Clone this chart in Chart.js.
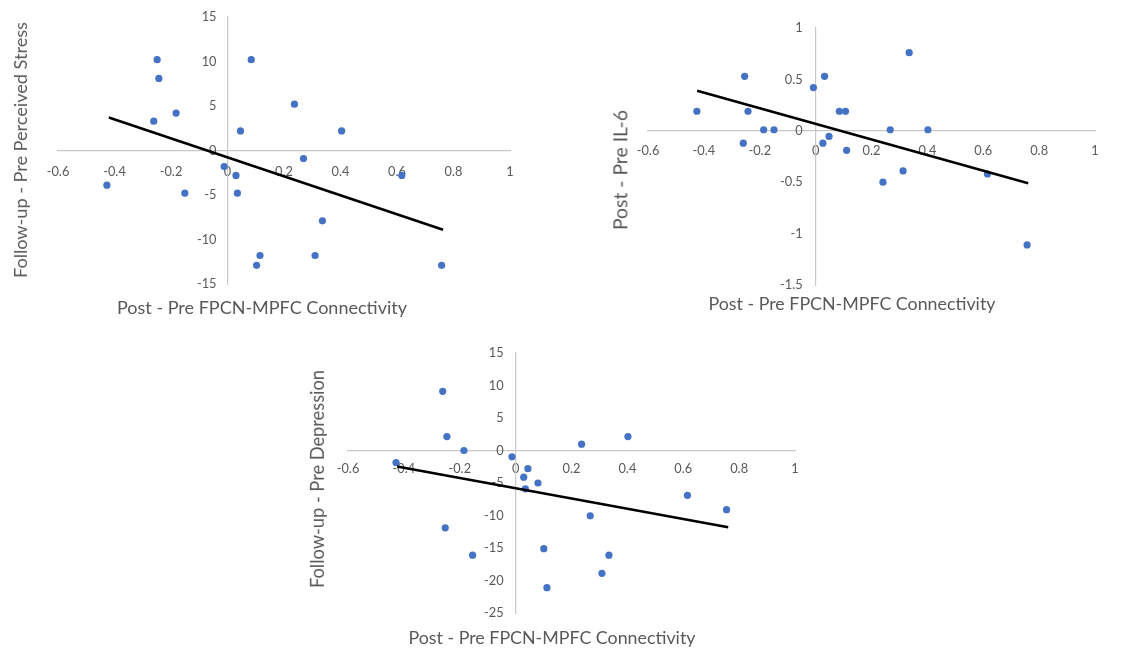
<!DOCTYPE html>
<html><head><meta charset="utf-8">
<script src="https://cdn.jsdelivr.net/npm/chart.js@4.4.1/dist/chart.umd.min.js"></script>
<style>
html,body{margin:0;padding:0;background:#fff;width:1145px;height:652px;overflow:hidden;position:relative}
canvas{position:absolute}
.t{position:absolute;color:#595959;font-family:Lato,'Open Sans',sans-serif;white-space:nowrap;line-height:1}
</style></head><body>
<canvas id="c1" width="570" height="325" style="left:0px;top:0px"></canvas>
<canvas id="c2" width="565" height="325" style="left:580px;top:0px"></canvas>
<canvas id="c3" width="560" height="322" style="left:290px;top:330px"></canvas>
<script>
// ---- tick labels ----
const connectivityTicks = [-0.6, -0.4, -0.2, 0, 0.2, 0.4, 0.6, 0.8, 1];
const stressTicks = [-15, -10, -5, 0, 5, 10, 15];
const il6Ticks = [-1.5, -1, -0.5, 0, 0.5, 1];
const depressionTicks = [-25, -20, -15, -10, -5, 0, 5, 10, 15];

// ---- chart 1: perceived stress ----
const stressX = [-0.249, -0.243, 0.084, -0.182, -0.261, 0.237, 0.046, 0.404, 0.269, -0.012, 0.030, 0.617, -0.427, -0.151, 0.035, 0.336, 0.115, 0.310, 0.103, 0.758];
const stressY = [10.2, 8.1, 10.2, 4.2, 3.3, 5.2, 2.2, 2.2, -0.9, -1.8, -2.8, -2.8, -3.9, -4.8, -4.8, -7.9, -11.8, -11.8, -12.9, -12.9];
const stressTrendX = [-0.420, 0.763];
const stressTrendY = [3.7, -8.9];

// ---- chart 2: IL-6 ----
const il6X = [-0.425, -0.254, -0.242, -0.186, -0.149, -0.259, -0.008, 0.032, 0.026, 0.048, 0.085, 0.107, 0.111, 0.267, 0.402, 0.241, 0.313, 0.335, 0.615, 0.757];
const il6Y = [0.19, 0.53, 0.19, 0.01, 0.01, -0.12, 0.42, 0.53, -0.12, -0.055, 0.19, 0.19, -0.19, 0.01, 0.01, -0.50, -0.39, 0.76, -0.42, -1.11];
const il6TrendX = [-0.424, 0.761];
const il6TrendY = [0.39, -0.51];

// ---- chart 3: depression ----
const depressionX = [-0.428, -0.261, -0.246, -0.185, -0.252, -0.154, -0.013, 0.029, 0.035, 0.044, 0.080, 0.101, 0.112, 0.236, 0.267, 0.309, 0.334, 0.402, 0.615, 0.755];
const depressionY = [-1.85, 9.1, 2.15, 0.0, -11.9, -16.1, -0.97, -4.1, -5.9, -2.8, -5.0, -15.1, -21.1, 0.97, -10.05, -18.9, -16.1, 2.15, -6.9, -9.1];
const depressionTrendX = [-0.424, 0.761];
const depressionTrendY = [-2.46, -11.8];

const xTitle = 'Post - Pre FPCN-MPFC Connectivity';
const TXT = '#595959';
const tickFont = {family: "Lato, 'Open Sans', sans-serif", size: 12.8};

function pts(xs, ys){ return xs.map((x,i)=>({x:x, y:ys[i]})); }

// shifts the y-axis tick labels away from the axis line (padding is not applied for value-positioned axes)
const yLabelGap = {
  id: 'yLabelGap',
  beforeDraw(chart, args, opts){
    const s = chart.scales.y;
    const items = s.getLabelItems(chart.chartArea);
    if (!items._shifted) {
      items.forEach(it => { it.options.translation[0] -= opts.gap; });
      items._shifted = true;
    }
  }
};

function makeChart(id, xs, ys, tx, ty, yTicks, pad, xPad, yGap){
  new Chart(document.getElementById(id), {
    type: 'scatter',
    data: {datasets: [
      {data: pts(tx, ty), showLine: true, borderColor: '#000', borderWidth: 2.6, pointRadius: 0, pointHoverRadius: 0, fill: false},
      {data: pts(xs, ys), showLine: false, pointRadius: 3.6, pointBackgroundColor: '#4472C4', pointBorderColor: '#4472C4', pointBorderWidth: 0}
    ]},
    plugins: [yLabelGap],
    options: {
      responsive: false, animation: false, events: [],
      layout: {padding: pad},
      plugins: {legend: {display: false}, tooltip: {enabled: false}, title: {display: false}, yLabelGap: {gap: yGap}},
      scales: {
        x: {type: 'linear', position: {y: 0}, min: Math.min(...connectivityTicks), max: Math.max(...connectivityTicks),
            grid: {display: false, drawTicks: false}, border: {display: true, color: '#c8c8c8', width: 1.2},
            ticks: {color: TXT, font: tickFont, padding: xPad, callback: v => String(v)},
            afterBuildTicks: s => { s.ticks = connectivityTicks.map(v => ({value: v})); }},
        y: {type: 'linear', position: {x: 0}, min: Math.min(...yTicks), max: Math.max(...yTicks),
            grid: {display: false, drawTicks: false}, border: {display: true, color: '#c8c8c8', width: 1.2},
            ticks: {color: TXT, font: tickFont, padding: 0, callback: v => String(v)},
            afterBuildTicks: s => { s.ticks = yTicks.map(v => ({value: v})); }}
      }
    }
  });
}

makeChart('c1', stressX, stressY, stressTrendX, stressTrendY, stressTicks, {left: 58, top: 17, right: 60, bottom: 41}, 13.5, 11);
makeChart('c2', il6X, il6Y, il6TrendX, il6TrendY, il6Ticks, {left: 68, top: 28, right: 50, bottom: 40}, 12, 13);
makeChart('c3', depressionX, depressionY, depressionTrendX, depressionTrendY, depressionTicks, {left: 58, top: 23, right: 55, bottom: 39}, 11, 12);

// ---- axis titles ----
const mctx = document.createElement('canvas').getContext('2d');
function addTitle(text, cx, cy, len, vertical){
  mctx.font = "100px Lato, 'Open Sans', sans-serif";
  const size = len / mctx.measureText(text).width * 100;
  const d = document.createElement('div');
  d.className = 't';
  d.textContent = text;
  d.style.fontSize = size.toFixed(2) + 'px';
  d.style.left = cx + 'px';
  d.style.top = cy + 'px';
  d.style.transform = 'translate(-50%,-50%)' + (vertical ? ' rotate(-90deg)' : '');
  document.body.appendChild(d);
}
addTitle(xTitle, 262, 307, 290, false);
addTitle('Follow-up - Pre Perceived Stress', 20, 150, 256, true);
addTitle(xTitle, 852, 304, 287, false);
addTitle('Post - Pre IL-6', 620, 170, 120, true);
addTitle(xTitle, 552, 638, 287, false);
addTitle('Follow-up - Pre Depression', 317, 479, 218, true);
</script>
</body></html>
